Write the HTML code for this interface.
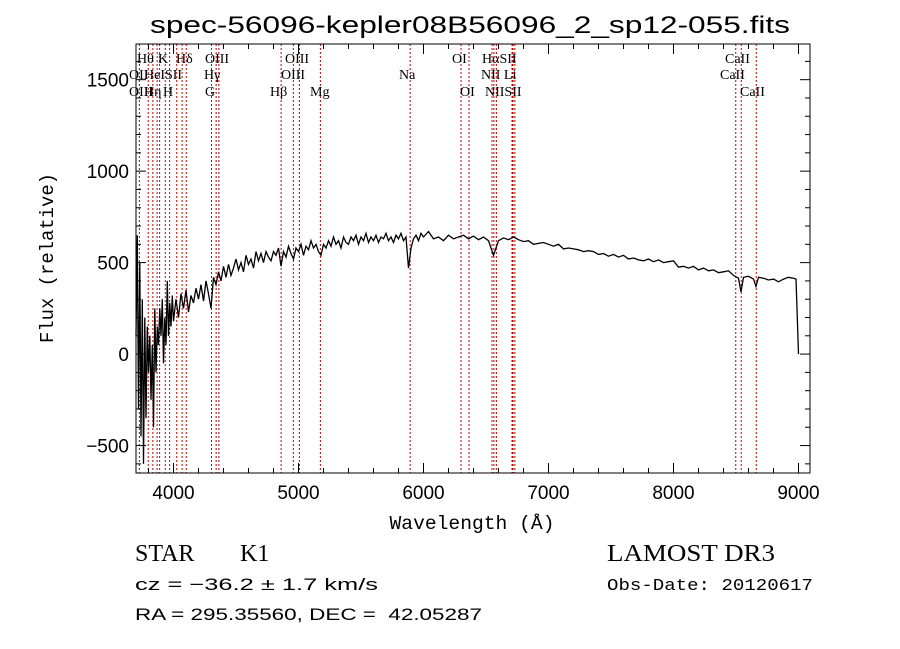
<!DOCTYPE html>
<html><head><meta charset="utf-8">
<style>
html,body{margin:0;padding:0;background:#fff;}
svg{display:block;}
.serif{font-family:"Liberation Serif",serif;}
.sans{font-family:"Liberation Sans",sans-serif;}
.mono{font-family:"Liberation Mono",monospace;}
text{fill:#000;white-space:pre;}
</style></head>
<body>
<svg id="chart" width="900" height="649" viewBox="0 0 900 649" xmlns="http://www.w3.org/2000/svg" xml:space="preserve">
<rect width="900" height="649" fill="#fff"/>
<text class="sans" x="470" y="33" font-size="24" text-anchor="middle" textLength="640" lengthAdjust="spacingAndGlyphs">spec-56096-kepler08B56096_2_sp12-055.fits</text>
<g id="lines"></g>
<g id="labels"></g>
<polyline id="spec" fill="none" stroke="#000" stroke-width="1.3"/>
<rect x="136" y="44" width="674" height="429" fill="none" stroke="#000" stroke-width="1"/>
<g id="axes"></g>
<text class="mono" x="472" y="529" font-size="19" text-anchor="middle" textLength="165" lengthAdjust="spacingAndGlyphs">Wavelength (Å)</text>
<text class="mono" transform="translate(53,258) rotate(-90)" font-size="19" text-anchor="middle" textLength="170" lengthAdjust="spacingAndGlyphs">Flux (relative)</text>
<text class="serif" x="135" y="561" font-size="24">STAR</text>
<text class="serif" x="240" y="561" font-size="24">K1</text>
<text class="serif" x="607" y="561" font-size="24" textLength="168" lengthAdjust="spacingAndGlyphs">LAMOST DR3</text>
<text class="sans" x="135" y="590" font-size="17" textLength="243" lengthAdjust="spacingAndGlyphs">cz = −36.2 ± 1.7 km/s</text>
<text class="mono" x="607" y="590" font-size="17" textLength="206" lengthAdjust="spacingAndGlyphs">Obs-Date: 20120617</text>
<text class="sans" x="135" y="620" font-size="17" textLength="347" lengthAdjust="spacingAndGlyphs">RA = 295.35560, DEC =  42.05287</text>
</svg>
<script>
const wavelengths=[3700,3710,3720,3730,3740,3750,3760,3770,3780,3790,3800,3810,3820,3830,3840,3850,3860,3870,3880,3890,3900,3910,3920,3930,3940,3950,3960,3970,3980,3990,4000,
4020,4040,4060,4080,4100,4120,4140,4160,4180,4200,4220,4240,4260,4280,4300,4320,4340,4360,4380,4400,4420,4440,4460,4480,4500,4520,4540,4560,4580,4600,4620,4640,4660,4680,4700,4720,4740,4760,4780,4800,4820,4840,4860,4880,4900,4920,4940,4960,4980,5000,5020,5040,5060,5080,5100,5120,5140,5160,5180,5200,5220,5240,5260,5280,5300,5320,5340,5360,5380,5400,5420,5440,5460,5480,5500,5520,5540,5560,5580,5600,5620,5640,5660,5680,5700,5720,5740,5760,5780,5800,5820,5840,5860,5880,5900,5920,5940,5960,5980,6000,
6040,6080,6120,6160,6200,6240,6280,6320,6360,6400,6440,6480,6520,6560,6600,6640,6680,6720,6760,6800,6840,6880,6920,6960,7000,7040,7080,7120,7160,7200,7240,7280,7320,7360,7400,7440,7480,7520,7560,7600,7640,7680,7720,7760,7800,7840,7880,7920,7960,8000,8040,8080,8120,8160,8200,8240,8280,8320,8360,8400,8440,8480,8520,8540,8560,8600,8640,8660,8680,8720,8760,8800,8840,8880,8920,8960,8980,8990,9000];
const fluxes=[100,650,-300,500,-450,300,-600,200,-350,150,-100,100,-250,50,-400,250,-100,150,50,250,100,300,-50,200,50,400,100,280,150,320,180,
300,200,330,250,350,230,320,280,360,300,380,290,400,330,250,420,380,450,400,480,420,490,430,470,520,460,500,450,540,490,520,470,560,510,550,500,560,530,510,560,540,580,480,560,530,590,550,520,580,560,600,540,590,570,620,580,600,560,540,600,580,620,590,640,600,620,580,640,610,600,640,620,650,600,640,620,660,610,640,620,650,610,640,630,660,620,640,610,650,630,660,620,640,470,580,630,650,620,660,640,
670,630,640,620,650,630,640,650,630,645,625,640,620,540,620,635,625,640,625,615,620,600,605,610,600,590,600,575,580,575,570,560,565,560,545,550,535,545,530,540,520,525,515,510,520,505,515,500,505,510,475,480,470,480,460,470,455,460,445,450,455,430,415,340,420,425,410,370,420,415,405,410,395,410,420,415,410,200,0];
const xTicks=[4000,5000,6000,7000,8000,9000];
const yTicks=[-500,0,500,1000,1500];
const lineWaves=[3727,3798,3835,3869,3889,3934,3969,4026,4069,4102,4304,4341,4363,4861,4959,5007,5175,5893,6300,6364,6548,6563,6583,6708,6716,6731,8498,8542,8662];
const labelTexts=["Hθ","K","Hδ","OIII","OIII","OI","HαSII","CaII","OII","HeISII","Hγ","OIII","Na","NII Li","CaII","OIII","Hη","H","G","Hβ","Mg","OI","NIISII","CaII"];
const labelX=[137,158,176,205,285,452,482,725,129,144,204,281,399,481,720,129,144,163,205,270,310,460,485,740];
const labelRow=[1,1,1,1,1,1,1,1,2,2,2,2,2,2,2,3,3,3,3,3,3,3,3,3];
const NS="http://www.w3.org/2000/svg";
const X0=136,X1=810,Y0=44,Y1=473,WMIN=3700,WMAX=9092,FMIN=-650,FMAX=1695;
function xs(w){return X0+(w-WMIN)/(WMAX-WMIN)*(X1-X0);}
function ys(f){return Y1-(f-FMIN)/(FMAX-FMIN)*(Y1-Y0);}
function mk(tag,attrs,parent){const e=document.createElementNS(NS,tag);for(const k in attrs)e.setAttribute(k,attrs[k]);parent.appendChild(e);return e;}
const spec=document.getElementById('spec');
spec.setAttribute('points',wavelengths.map((w,i)=>xs(w).toFixed(1)+','+ys(fluxes[i]).toFixed(1)).join(' '));
const lg=document.getElementById('lines');
lineWaves.forEach(w=>{const l=mk('line',{x1:xs(w),x2:xs(w),y1:Y0,y2:Y1,stroke:'#c00000','stroke-width':1,'stroke-dasharray':'2,2'},lg);

});
const lb=document.getElementById('labels');
const rowY={1:63,2:79,3:96};
labelTexts.forEach((t,i)=>{const e=mk('text',{x:labelX[i],y:rowY[labelRow[i]],'font-size':14,'class':'serif'},lb);e.textContent=t;

});
const ax=document.getElementById('axes');
for(let w=3800;w<=9000;w+=200){const maj=w%1000===0;const L=maj?10:5;
mk('line',{x1:xs(w),x2:xs(w),y1:Y1,y2:Y1-L,stroke:'#000'},ax);
mk('line',{x1:xs(w),x2:xs(w),y1:Y0,y2:Y0+L,stroke:'#000'},ax);}
xTicks.forEach(w=>{const t=mk('text',{x:xs(w),y:Y1+26,'font-size':19,'text-anchor':'middle','class':'sans'},ax);t.textContent=w;

});
for(let f=-600;f<=1600;f+=100){const maj=f%500===0;const L=maj?10:5;
mk('line',{x1:X0,x2:X0+L,y1:ys(f),y2:ys(f),stroke:'#000'},ax);
mk('line',{x1:X1,x2:X1-L,y1:ys(f),y2:ys(f),stroke:'#000'},ax);}
yTicks.forEach(f=>{const t=mk('text',{x:X0-7,y:ys(f)+7,'font-size':19,'text-anchor':'end','class':'sans'},ax);t.textContent=f<0?'−'+(-f):f;

});
</script>
</body></html>
